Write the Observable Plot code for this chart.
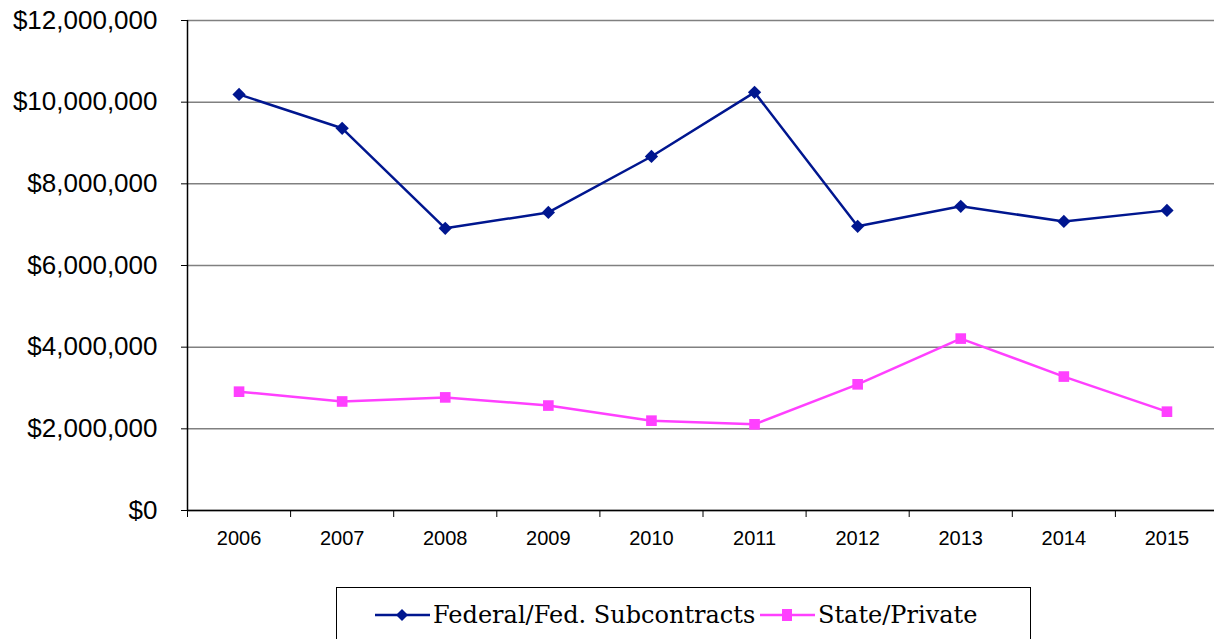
<!DOCTYPE html>
<html><head><meta charset="utf-8">
<script src="https://cdn.jsdelivr.net/npm/d3@7"></script>
<script src="https://cdn.jsdelivr.net/npm/@observablehq/plot@0.6"></script>
<style>
body{margin:0;background:#fff;width:1214px;height:639px;overflow:hidden;position:relative;}
#legend{position:absolute;left:336px;top:587px;width:695px;height:70px;border:1px solid #000;box-sizing:border-box;font-family:"DejaVu Serif","Liberation Serif",serif;font-size:24px;color:#000;}
.item{position:absolute;top:13px;display:flex;align-items:center;white-space:nowrap;}
</style></head>
<body>
<div id="chart"></div>
<div id="legend"></div>
<script>
const years = [2006, 2007, 2008, 2009, 2010, 2011, 2012, 2013, 2014, 2015];
const federal = [10190000, 9360000, 6910000, 7300000, 8670000, 10240000, 6960000, 7450000, 7080000, 7350000];
const statePrivate = [2910000, 2670000, 2770000, 2570000, 2200000, 2110000, 3090000, 4210000, 3280000, 2420000];
const yTicks = [0, 2000000, 4000000, 6000000, 8000000, 10000000, 12000000];
const seriesNames = ["Federal/Fed. Subcontracts", "State/Private"];
const colors = ["#00168f", "#ff40ff"];

const fedData = years.map((y, i) => ({year: y, value: federal[i]}));
const stData = years.map((y, i) => ({year: y, value: statePrivate[i]}));
const boundaries = [years[0] - 0.5, ...years.map(y => y + 0.5)];
const fmt = d => "$" + d3.format(",")(d);

const chart = Plot.plot({
  width: 1214, height: 560,
  marginLeft: 187, marginRight: 0, marginTop: 20, marginBottom: 50,
  style: {fontFamily: "Liberation Sans, Arial, sans-serif", background: "#fff", overflow: "visible"},
  x: {type: "linear", domain: [years[0] - 0.5, years[years.length - 1] + 0.5], range: [187, 1218], label: null},
  y: {domain: [0, 12000000], label: null},
  marks: [
    Plot.gridY(yTicks, {stroke: "#808080", strokeOpacity: 1, strokeWidth: 1.5}),
    Plot.axisY(yTicks, {tickFormat: fmt, tickSize: 6, tickPadding: 24, fontSize: 26, stroke: "#000", label: null}),
    Plot.axisX(years, {tickSize: 0, tickPadding: 20, tickFormat: d => String(d), fontSize: 20, label: null}),
    Plot.axisX(boundaries, {tickSize: 7, tickFormat: () => "", stroke: "#000", label: null}),
    Plot.ruleX([boundaries[0]], {stroke: "#000", strokeWidth: 1.5}),
    Plot.ruleY([0], {stroke: "#000", strokeWidth: 1.5}),
    Plot.line(fedData, {x: "year", y: "value", stroke: colors[0], strokeWidth: 2.5}),
    Plot.dot(fedData, {x: "year", y: "value", symbol: "square", rotate: 45, fill: colors[0], r: 5.3}),
    Plot.line(stData, {x: "year", y: "value", stroke: colors[1], strokeWidth: 2.5}),
    Plot.dot(stData, {x: "year", y: "value", symbol: "square", fill: colors[1], r: 6})
  ]
});
document.getElementById("chart").appendChild(chart);

const legend = document.getElementById("legend");
const positions = [38, 423];
seriesNames.forEach((name, i) => {
  const item = document.createElement("div");
  item.className = "item";
  item.style.left = positions[i] + "px";
  const marker = i === 0
    ? `<path d="M27,5 L33,11 L27,17 L21,11 Z" fill="${colors[0]}"/>`
    : `<rect x="22" y="5" width="10" height="12" fill="${colors[1]}"/>`;
  item.innerHTML = `<svg width="56" height="22" style="margin-right:2px"><line x1="0" y1="11" x2="55" y2="11" stroke="${colors[i]}" stroke-width="2.5"/>${marker}</svg><span>${name}</span>`;
  legend.appendChild(item);
});
</script>
</body></html>
